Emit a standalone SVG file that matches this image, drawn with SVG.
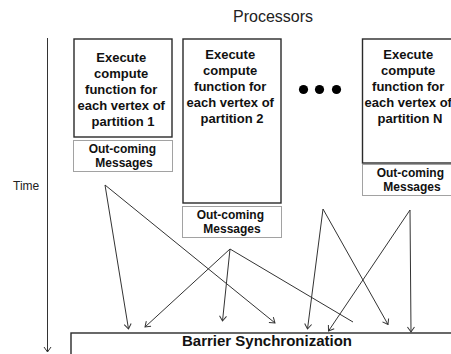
<svg xmlns="http://www.w3.org/2000/svg" width="451" height="354" viewBox="0 0 451 354">
  <defs>
    <marker id="vhead" viewBox="-6 -5 7 10" markerWidth="7" markerHeight="10" refX="0" refY="0" orient="auto" markerUnits="userSpaceOnUse">
      <path d="M-5,-3.5 L0,0 L-5,3.5" fill="none" stroke="#333" stroke-width="1"/>
    </marker>
  </defs>
  <style>
    .proc { fill: #fff; stroke: #2a2a2a; stroke-width: 1.4; }
    .msg { fill: #fff; stroke: #444; stroke-width: 1; stroke-dasharray: 1 1; }
    .bold { font-family: "Liberation Sans", Arial, sans-serif; font-weight: bold; fill: #111; text-anchor: middle; }
    .t13 { font-size: 13px; }
    .t12 { font-size: 12px; }
    .plain { font-family: "Liberation Sans", Arial, sans-serif; fill: #222; }
    .conn { fill: none; stroke: #333; stroke-width: 1; }
  </style>
  <rect width="451" height="354" fill="#fff"/>

  <text class="plain" x="273" y="22" font-size="16" text-anchor="middle">Processors</text>
  <text class="plain" x="13" y="190" font-size="12">Time</text>

  <!-- time axis -->
  <g id="time-axis">
    <line class="conn" x1="47.5" y1="38" x2="47.5" y2="352" marker-end="url(#vhead)"/>
  </g>

  <g id="partition-1">
    <rect class="proc" x="74" y="39" width="98" height="98"/>
    <text class="bold t13">
      <tspan x="123" y="62">Execute</tspan>
      <tspan x="123" y="78">compute</tspan>
      <tspan x="123" y="94">function for</tspan>
      <tspan x="123" y="110">each vertex of</tspan>
      <tspan x="123" y="126">partition 1</tspan>
    </text>
  </g>
  <g id="messages-1">
    <rect class="msg" x="73.5" y="140.5" width="99" height="31"/>
    <text class="bold t12">
      <tspan x="124" y="153">Out-coming</tspan>
      <tspan x="124" y="167">Messages</tspan>
    </text>
  </g>

  <g id="partition-2">
    <rect class="proc" x="183" y="39" width="98" height="164"/>
    <text class="bold t13">
      <tspan x="232" y="59">Execute</tspan>
      <tspan x="232" y="75">compute</tspan>
      <tspan x="232" y="91">function for</tspan>
      <tspan x="232" y="107">each vertex of</tspan>
      <tspan x="232" y="123">partition 2</tspan>
    </text>
  </g>
  <g id="messages-2">
    <rect class="msg" x="182.5" y="206.5" width="99" height="31"/>
    <text class="bold t12">
      <tspan x="232" y="219">Out-coming</tspan>
      <tspan x="232" y="233">Messages</tspan>
    </text>
  </g>

  <g id="ellipsis">
    <circle cx="303.5" cy="89.5" r="4.6" fill="#000"/>
    <circle cx="319.5" cy="89.5" r="4.6" fill="#000"/>
    <circle cx="336.5" cy="89.5" r="4.6" fill="#000"/>
  </g>

  <g id="partition-n">
    <rect class="proc" x="362.5" y="39" width="98" height="124"/>
    <text class="bold t13">
      <tspan x="410" y="59">Execute</tspan>
      <tspan x="410" y="75">compute</tspan>
      <tspan x="410" y="91">function for</tspan>
      <tspan x="410" y="107">each vertex of</tspan>
      <tspan x="410" y="123">partition N</tspan>
    </text>
  </g>
  <g id="messages-n">
    <rect class="msg" x="362.5" y="164.5" width="99" height="31"/>
    <text class="bold t12">
      <tspan x="412" y="177">Out-coming</tspan>
      <tspan x="412" y="191">Messages</tspan>
    </text>
  </g>

  <g id="barrier">
    <rect class="proc" x="71" y="333" width="390" height="30"/>
    <text class="bold" x="267" y="346" font-size="15">Barrier Synchronization</text>
  </g>

  <!-- message fan-out towards the barrier -->
  <g id="connectors" class="conn">
    <line x1="105" y1="185" x2="128.5" y2="329" marker-end="url(#vhead)"/>
    <line x1="105" y1="185" x2="275" y2="323" marker-end="url(#vhead)"/>
    <line x1="230" y1="249" x2="222.5" y2="321" marker-end="url(#vhead)"/>
    <line x1="230" y1="249" x2="145" y2="327" marker-end="url(#vhead)"/>
    <line x1="230" y1="249" x2="353" y2="322"/>
    <line x1="323" y1="209" x2="307.5" y2="329" marker-end="url(#vhead)"/>
    <line x1="323" y1="209" x2="388" y2="324.5" marker-end="url(#vhead)"/>
    <line x1="410" y1="210" x2="411" y2="332" marker-end="url(#vhead)"/>
    <line x1="410" y1="210" x2="328.5" y2="331" marker-end="url(#vhead)"/>
  </g>
</svg>
